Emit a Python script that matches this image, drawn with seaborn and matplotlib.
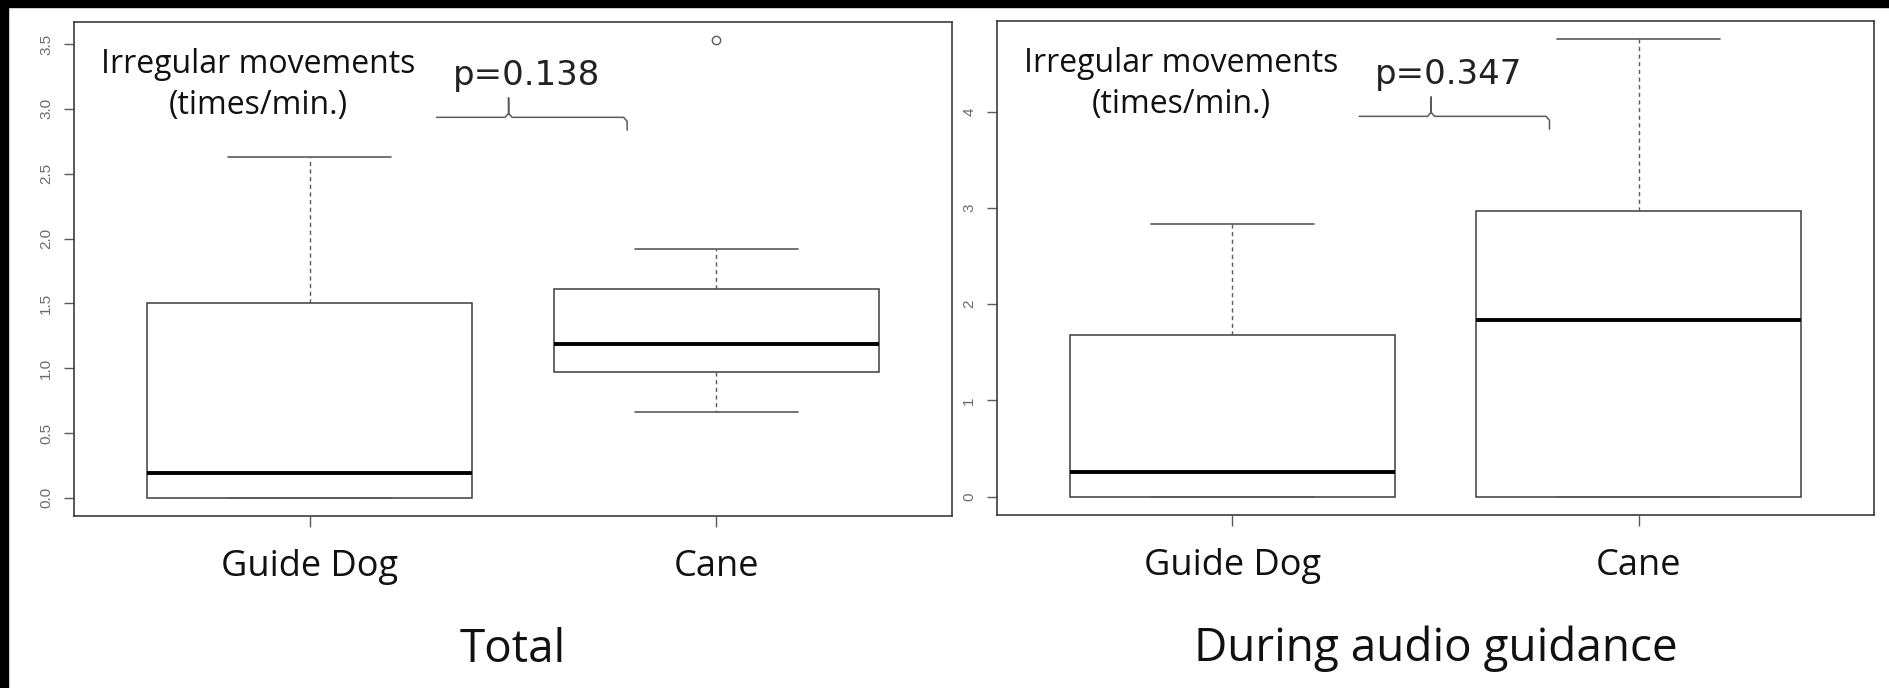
import matplotlib
matplotlib.use("Agg")
import numpy as np
import pandas as pd
import seaborn as sns
import matplotlib.pyplot as plt
from matplotlib.patches import Rectangle

# ---------------- data ----------------
groups = ["Guide Dog", "Cane"]
# values per group: whisker ends, hinges, median and the single outlier
total_guide_dog = [0.0, 0.0, 0.19, 1.50, 2.63]
total_cane = [0.66, 0.97, 0.97, 1.19, 1.19, 1.61, 1.61, 1.92, 3.53]
audio_guide_dog = [0.0, 0.0, 0.26, 1.68, 2.83]
audio_cane = [0.0, 0.0, 1.83, 2.97, 4.75]

panel_titles = ["Total", "During audio guidance"]
p_values = ["p=0.138", "p=0.347"]
note_lines = ["Irregular movements", "(times/min.)"]

yticks_total = [0.0, 0.5, 1.0, 1.5, 2.0, 2.5, 3.0, 3.5]
ytick_labels_total = ["0.0", "0.5", "1.0", "1.5", "2.0", "2.5", "3.0", "3.5"]
yticks_audio = [0, 1, 2, 3, 4]
ytick_labels_audio = ["0", "1", "2", "3", "4"]


def long_frame(gd, cane):
    return pd.DataFrame({
        "group": [groups[0]] * len(gd) + [groups[1]] * len(cane),
        "value": list(gd) + list(cane),
    })


df_total = long_frame(total_guide_dog, total_cane)
df_audio = long_frame(audio_guide_dog, audio_cane)

# ---------------- style ----------------
sns.set_style("white")
plt.rcParams["font.family"] = ["Open Sans", "DejaVu Sans"]

W, H = 1890, 688
fig = plt.figure(figsize=(W / 100, H / 100), dpi=100)
fig.patch.set_facecolor("white")

ax_l = fig.add_axes([74 / W, 1 - 516 / H, 878 / W, 494 / H])
ax_r = fig.add_axes([997 / W, 1 - 515 / H, 877 / W, 494 / H])

edge = "#3c3c3c"
gray = "#5a5a5a"

panels = [
    (ax_l, df_total, (-0.14, 3.67), yticks_total, ytick_labels_total),
    (ax_r, df_audio, (-0.19, 4.94), yticks_audio, ytick_labels_audio),
]

for i, (ax, df, ylim, yt, ytl) in enumerate(panels):
    sns.boxplot(
        data=df, x="group", y="value", order=groups, ax=ax,
        width=0.8, color="white", saturation=1, linecolor=edge,
        linewidth=1.1, whis=1.5,
        medianprops=dict(color="black", linewidth=2.8),
        whiskerprops=dict(color=gray, linestyle=(0, (3, 2.5)), linewidth=1.0),
        capprops=dict(color=gray, linewidth=1.2),
        flierprops=dict(marker="o", markerfacecolor="none",
                        markeredgecolor=gray, markersize=6,
                        markeredgewidth=1.0),
    )
    ax.set_xlim(-0.58, 1.58)
    ax.set_ylim(*ylim)
    ax.set_xlabel("")
    ax.set_ylabel("")
    for sp in ax.spines.values():
        sp.set_visible(True)
        sp.set_color(edge)
        sp.set_linewidth(1.2)

    ax.set_xticks([0, 1])
    ax.set_xticklabels(groups, fontsize=26, family=["Open Sans"],
                       color="#111111")
    ax.tick_params(axis="x", direction="out", length=8, width=1.0,
                   color=gray, pad=16, bottom=True)
    ax.set_yticks(yt)
    ax.set_yticklabels(ytl, fontsize=11, family=["Liberation Sans"],
                       color="#6a6a6a", rotation=90, va="center")
    ax.tick_params(axis="y", direction="out", length=7, width=1.0,
                   color=gray, pad=8, left=True)

    # annotation text
    ax.text(0.2096, 0.8968, note_lines[0], transform=ax.transAxes,
            ha="center", va="baseline", fontsize=23, family=["Open Sans"],
            color="#111111")
    ax.text(0.2096, 0.8138, note_lines[1], transform=ax.transAxes,
            ha="center", va="baseline", fontsize=23, family=["Open Sans"],
            color="#111111")
    ax.text(0.515, 0.8725, p_values[i], transform=ax.transAxes,
            ha="center", va="baseline", fontsize=24.5, color="#222222",
            family=["DejaVu Sans"])

    # curly bracket
    x0, x1, xn = 0.413, 0.630, 0.495
    yb, ytop, yend = 0.807, 0.846, 0.781
    dx, dy = 0.004, 0.008
    bx = [x0, xn - dx, xn, xn, xn, xn + dx, x1 - dx, x1, x1]
    by = [yb, yb, yb + dy, ytop, yb + dy, yb, yb, yb - dy, yend]
    ax.plot(bx, by, transform=ax.transAxes, color=gray, lw=1.1,
            clip_on=False, solid_joinstyle="round")

    # panel title
    ax.text(0.5, -0.2955, panel_titles[i], transform=ax.transAxes,
            ha="center", va="baseline", fontsize=33, family=["Open Sans"],
            color="#111111")

# black border strips of the original screenshot
fig.patches.append(Rectangle((0, 1 - 7 / H), 1, 7 / H,
                             transform=fig.transFigure, color="black",
                             zorder=10))
fig.patches.append(Rectangle((0, 0), 8 / W, 1, transform=fig.transFigure,
                             color="black", zorder=10))

fig.savefig("out.png", dpi=100, facecolor="white")
